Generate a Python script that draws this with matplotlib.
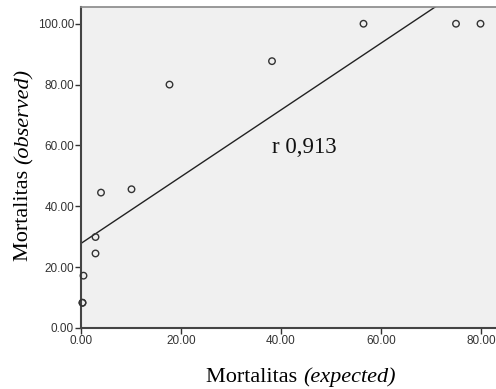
import matplotlib.pyplot as plt
import numpy as np

# Mortality expected vs observed
expected = [0.3, 0.3, 0.5, 2.9, 2.9, 4.0, 10.1, 17.7, 38.2, 56.5, 75.0, 79.9]
observed = [8.3, 8.3, 17.2, 29.9, 24.5, 44.5, 45.6, 80.0, 87.7, 100.0, 100.0, 100.0]
fit_intercept = 27.8
fit_slope = 1.097
r_label = "r 0,913"
x_ticks = [0, 20, 40, 60, 80]
y_ticks = [0, 20, 40, 60, 80, 100]

W, H = 496, 389
fig = plt.figure(figsize=(W / 100, H / 100), dpi=100)
ax = fig.add_axes([81 / W, (H - 328) / H, 425 / W, 321 / H])
ax.set_facecolor("#f0f0f0")
ax.set_xlim(0, 85)
ax.set_ylim(0, 105.5)

xs = np.array([0, 85])
ax.plot(xs, fit_intercept + fit_slope * xs, color="#222222", lw=1.0, zorder=2)
ax.scatter(expected, observed, s=22, facecolors="none", edgecolors="#333333",
           linewidths=1.0, zorder=3, clip_on=False)

ax.text(38.3, 57.6, r_label, family="Liberation Serif", fontsize=16.5,
        va="baseline", ha="left", color="#111111")

ax.set_xticks(x_ticks)
ax.set_yticks(y_ticks)
ax.set_xticklabels([f"{v:.2f}" for v in x_ticks])
ax.set_yticklabels([f"{v:.2f}" for v in y_ticks])
ax.tick_params(direction="out", length=4, width=1, color="#333333",
               labelsize=8.5, labelcolor="#333333", pad=1)
for t in ax.get_xticklabels() + ax.get_yticklabels():
    t.set_family("Liberation Sans")

ax.spines["right"].set_visible(False)
ax.spines["top"].set_color("#888888")
ax.spines["top"].set_linewidth(1.2)
for s in ("left", "bottom"):
    ax.spines[s].set_color("#444444")
    ax.spines[s].set_linewidth(1.5)


def two_part_label(cx, cy, plain, italic, rotation=0, size=16):
    # plain word followed by an italic part, centred on (cx, cy) in pixels
    renderer = fig.canvas.get_renderer()
    a = fig.text(0, 0, plain, family="Liberation Serif", fontsize=size,
                 rotation=rotation, va="center", ha="left")
    b = fig.text(0, 0, italic, family="Liberation Serif", style="italic",
                 fontsize=size, rotation=rotation, va="center", ha="left")
    wa = a.get_window_extent(renderer)
    wb = b.get_window_extent(renderer)
    if rotation == 0:
        x0 = cx - (wa.width + wb.width) / 2
        a.set_va("baseline"); b.set_va("baseline")
        a.set_position((x0 / W, 1 - (cy + 5) / H))
        b.set_position(((x0 + wa.width) / W, 1 - (cy + 5) / H))
    else:
        y0 = cy + (wa.height + wb.height) / 2  # bottom, pixels from top
        a.set_ha("center"); b.set_ha("center")
        a.set_va("bottom"); b.set_va("bottom")
        a.set_position((cx / W, 1 - y0 / H))
        b.set_position((cx / W, 1 - (y0 - wa.height) / H))


two_part_label(301, 377, "Mortalitas ", "(expected)")
two_part_label(24, 165, "Mortalitas ", "(observed)", rotation=90)

fig.savefig("out.png", dpi=100, facecolor="white")
